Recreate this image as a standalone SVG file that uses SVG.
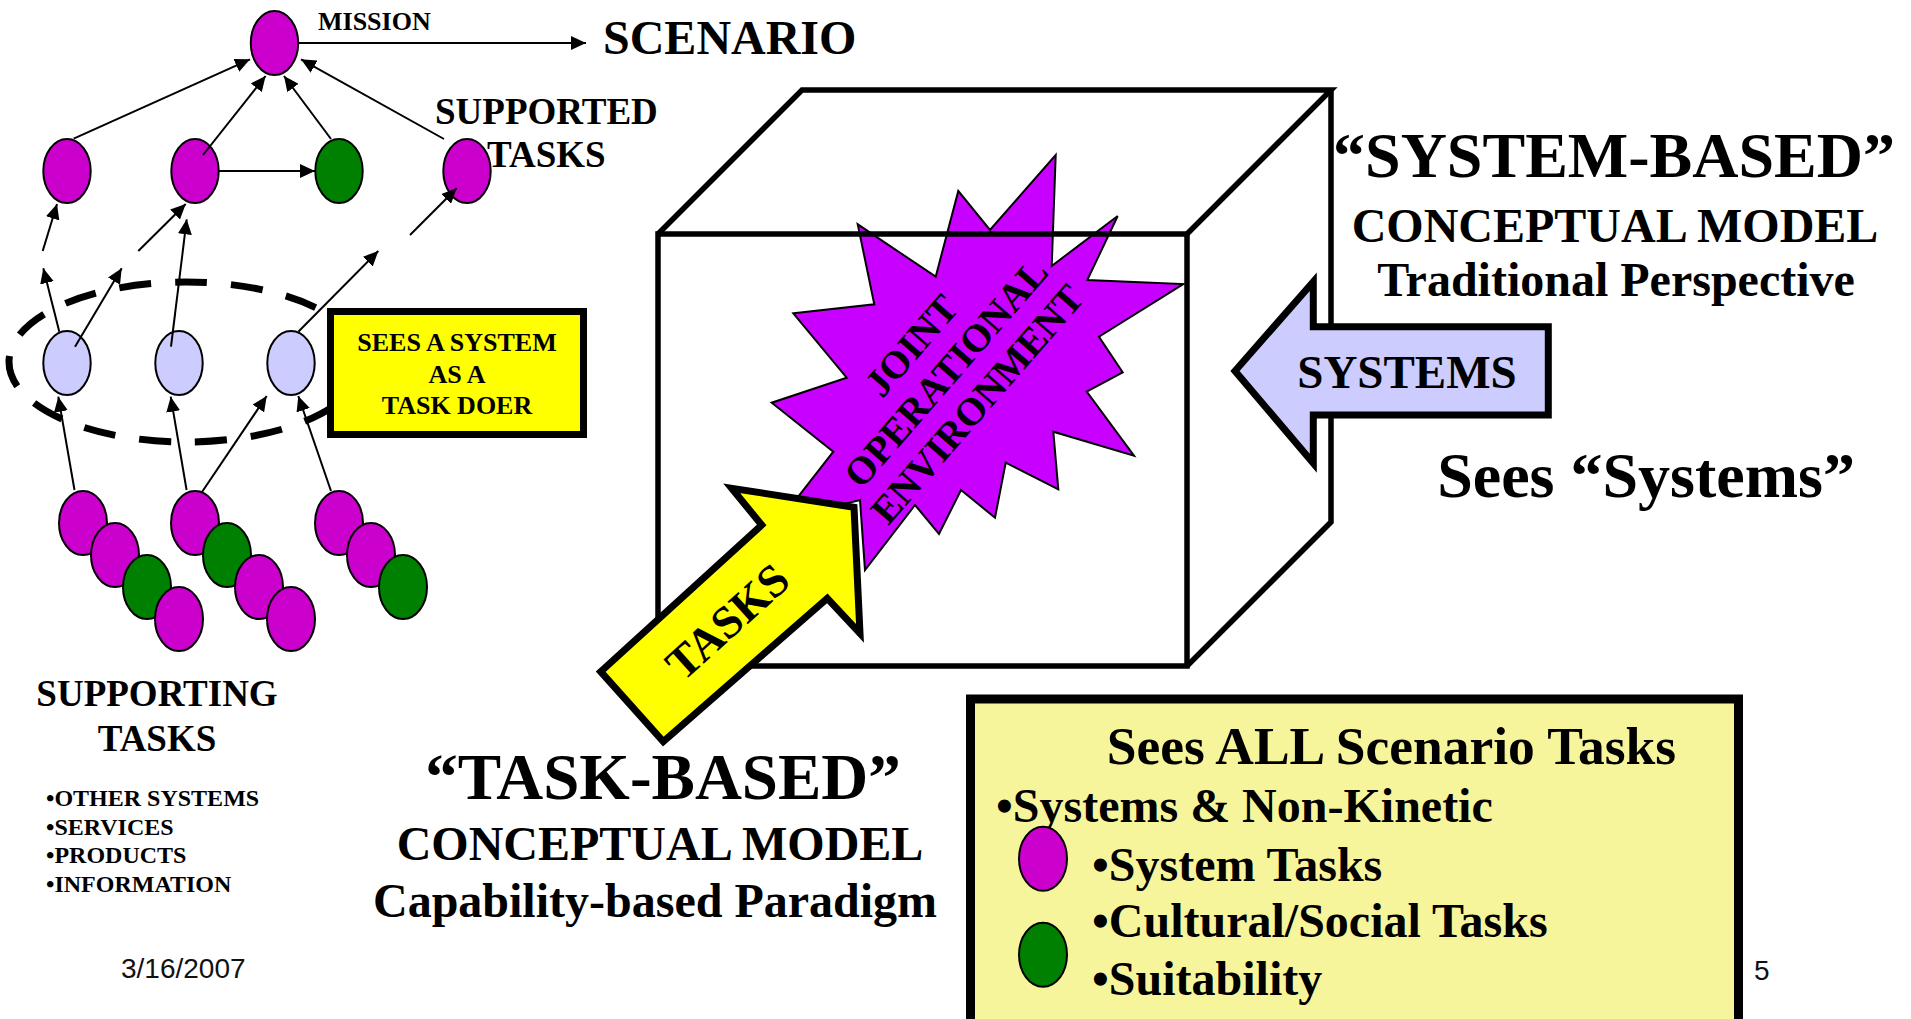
<svg xmlns="http://www.w3.org/2000/svg" width="1911" height="1019" viewBox="0 0 1911 1019">
<defs>
<marker id="ah" markerUnits="userSpaceOnUse" markerWidth="16" markerHeight="14" refX="15" refY="7" orient="auto"><path d="M0,0 L15,7 L0,14 z" fill="#000"/></marker>
<style>
.t{font-family:"Liberation Serif","Times New Roman",serif;font-weight:bold;fill:#000}
.s{font-family:"Liberation Sans",Arial,sans-serif;fill:#111}
.m{text-anchor:middle}
.mag{fill:#CC00CC;stroke:#000;stroke-width:2}
.grn{fill:#008000;stroke:#000;stroke-width:2}
.blu{fill:#CCCCFF;stroke:#000;stroke-width:2}
.cn{stroke:#000;stroke-width:2;fill:none;marker-end:url(#ah)}
</style>
</defs>
<rect width="1911" height="1019" fill="#fff"/>

<!-- left graph nodes -->
<g id="mission"><ellipse class="mag" cx="274.5" cy="43" rx="23.7" ry="32"/></g>
<g id="sup1"><ellipse class="mag" cx="67" cy="171" rx="23.7" ry="32"/></g>
<g id="sup2"><ellipse class="mag" cx="195" cy="171" rx="23.7" ry="32"/></g>
<g id="sup3"><ellipse class="grn" cx="339" cy="171" rx="23.7" ry="32"/></g>
<g id="sup4"><ellipse class="mag" cx="467" cy="171" rx="23.7" ry="32"/></g>
<g id="dashed-ring"><ellipse cx="186" cy="362" rx="177" ry="80" fill="none" stroke="#000" stroke-width="7" stroke-dasharray="32 24"/></g>
<g id="sys1"><ellipse class="blu" cx="67" cy="363" rx="23.7" ry="32"/></g>
<g id="sys2"><ellipse class="blu" cx="179" cy="363" rx="23.7" ry="32"/></g>
<g id="sys3"><ellipse class="blu" cx="291" cy="363" rx="23.7" ry="32"/></g>
<g id="sees-system-box">
<rect x="330.5" y="311.5" width="253" height="123" fill="#FFFF00" stroke="#000" stroke-width="7"/>
<text class="t m" x="457" y="351" font-size="26">SEES A SYSTEM</text>
<text class="t m" x="457" y="383" font-size="26">AS A</text>
<text class="t m" x="457" y="414" font-size="26">TASK DOER</text>
</g>
<g id="group1">
<ellipse class="mag" cx="83" cy="523" rx="24" ry="32"/>
<ellipse class="mag" cx="115" cy="555" rx="24" ry="32"/>
<ellipse class="grn" cx="147" cy="587" rx="24" ry="32"/>
<ellipse class="mag" cx="179" cy="619" rx="24" ry="32"/>
</g>
<g id="group2">
<ellipse class="mag" cx="195" cy="523" rx="24" ry="32"/>
<ellipse class="grn" cx="227" cy="555" rx="24" ry="32"/>
<ellipse class="mag" cx="259" cy="587" rx="24" ry="32"/>
<ellipse class="mag" cx="291" cy="619" rx="24" ry="32"/>
</g>
<g id="group3">
<ellipse class="mag" cx="339" cy="523" rx="24" ry="32"/>
<ellipse class="mag" cx="371" cy="555" rx="24" ry="32"/>
<ellipse class="grn" cx="403" cy="587" rx="24" ry="32"/>
</g>

<!-- connectors -->
<g id="connectors">
<line class="cn" x1="298" y1="43" x2="586" y2="43"/>
<line class="cn" x1="73.7" y1="138.7" x2="250" y2="59.3"/>
<line class="cn" x1="203" y1="155" x2="265.6" y2="76"/>
<line class="cn" x1="331" y1="139" x2="284" y2="76"/>
<line class="cn" x1="444" y1="139" x2="301" y2="59.3"/>
<line class="cn" x1="218.7" y1="171" x2="315" y2="171"/>
<line class="cn" x1="42.7" y1="251" x2="57" y2="204"/>
<line class="cn" x1="59.3" y1="331.7" x2="43.3" y2="268.3"/>
<line class="cn" x1="75" y1="346.7" x2="121.7" y2="268.3"/>
<line class="cn" x1="138.3" y1="251" x2="185.7" y2="204"/>
<line class="cn" x1="171" y1="346.7" x2="186.7" y2="219.3"/>
<line class="cn" x1="298.3" y1="331.7" x2="378.3" y2="251"/>
<line class="cn" x1="410" y1="235" x2="456.7" y2="188.3"/>
<line class="cn" x1="74.5" y1="490" x2="58.3" y2="396.7"/>
<line class="cn" x1="186.6" y1="490" x2="170.7" y2="396.7"/>
<line class="cn" x1="202" y1="492" x2="266.7" y2="396"/>
<line class="cn" x1="331" y1="491" x2="298.3" y2="396"/>
</g>

<g id="labels-left">
<text class="t" x="318" y="30" font-size="26">MISSION</text>
<text class="t" x="603" y="54" font-size="48">SCENARIO</text>
<text class="t" x="435" y="124" font-size="37">SUPPORTED</text>
<text class="t" x="487" y="167" font-size="37">TASKS</text>
<text class="t m" x="157" y="706" font-size="37">SUPPORTING</text>
<text class="t m" x="157" y="751" font-size="37">TASKS</text>
<text class="t" x="46" y="806" font-size="24">•OTHER SYSTEMS</text>
<text class="t" x="46" y="834.5" font-size="24">•SERVICES</text>
<text class="t" x="46" y="863" font-size="24">•PRODUCTS</text>
<text class="t" x="46" y="891.5" font-size="24">•INFORMATION</text>
<text class="s" x="121" y="978" font-size="28">3/16/2007</text>
</g>

<!-- joint operational environment -->
<g id="environment">
<polygon fill="#C800FF" stroke="#000" stroke-width="2" points="1055.7,155 1051.7,266 1117.7,216 1087.3,280 1183.3,284 1099,336.7 1122.7,372.3 1086.7,391.7 1134,455.7 1053.3,431.7 1058.3,489.3 1005.7,462.7 995,517.7 961,490 939,534 915,505 865,570 860,500 780,520 833.3,451.7 771.7,402.7 846.7,377.7 793.3,313.3 874.3,304.3 857.7,224.3 935.7,276.7 958.3,191 990,230"/>
</g>
<g id="cube" fill="none" stroke="#000" stroke-width="5.5" stroke-linejoin="miter">
<rect x="658" y="234" width="529" height="432"/>
<polyline points="658,234 802,90 1331,90 1187,234"/>
<polyline points="1331,90 1331,522 1187,666"/>
</g>
<g id="environment-label" transform="translate(946,373) rotate(-49)">
<text class="t m" x="-2" y="-31" font-size="39">JOINT</text>
<text class="t m" x="0" y="13" font-size="39">OPERATIONAL</text>
<text class="t m" x="-3" y="57" font-size="39">ENVIRONMENT</text>
</g>

<g id="tasks-arrow">
<polygon fill="#FFFF00" stroke="#000" stroke-width="7" stroke-linejoin="miter" points="854,507.3 860,633.3 827.3,598.3 663.3,741.7 600.7,671.7 761.7,525 731.7,488.3"/>
<text class="t m" transform="translate(727,621) rotate(-42)" x="0" y="16" font-size="46">TASKS</text>
</g>

<g id="systems-arrow">
<polygon fill="#CCCCFF" stroke="#000" stroke-width="7" stroke-linejoin="miter" points="1235,371 1313.3,281.7 1313.3,326.7 1548.3,326.7 1548.3,415 1313.3,415 1313.3,463.3"/>
<text class="t m" x="1407" y="388" font-size="47">SYSTEMS</text>
</g>

<g id="system-based-title">
<text class="t m" x="1614" y="177" font-size="64">“SYSTEM-BASED”</text>
<text class="t m" x="1615" y="242" font-size="48">CONCEPTUAL MODEL</text>
<text class="t m" x="1616" y="296" font-size="48">Traditional Perspective</text>
<text class="t m" x="1646" y="497" font-size="64">Sees “Systems”</text>
</g>

<g id="task-based-title">
<text class="t m" x="663" y="799" font-size="65">“TASK-BASED”</text>
<text class="t m" x="660" y="860" font-size="48">CONCEPTUAL MODEL</text>
<text class="t m" x="655" y="917" font-size="48">Capability-based Paradigm</text>
</g>

<g id="legend">
<rect x="970.5" y="699" width="768" height="325" fill="#F7F59B" stroke="#000" stroke-width="9"/>
<text class="t m" x="1391.5" y="764" font-size="53.5">Sees ALL Scenario Tasks</text>
<text class="t" x="996" y="822" font-size="48">•Systems &amp; Non-Kinetic</text>
<ellipse class="mag" cx="1043" cy="858.7" rx="24" ry="32"/>
<text class="t" x="1092" y="881" font-size="48">•System Tasks</text>
<text class="t" x="1092" y="937" font-size="48">•Cultural/Social Tasks</text>
<ellipse class="grn" cx="1043" cy="954.7" rx="24" ry="32"/>
<text class="t" x="1092" y="995" font-size="48">•Suitability</text>
</g>
<text class="s" x="1754" y="980" font-size="28">5</text>
</svg>
